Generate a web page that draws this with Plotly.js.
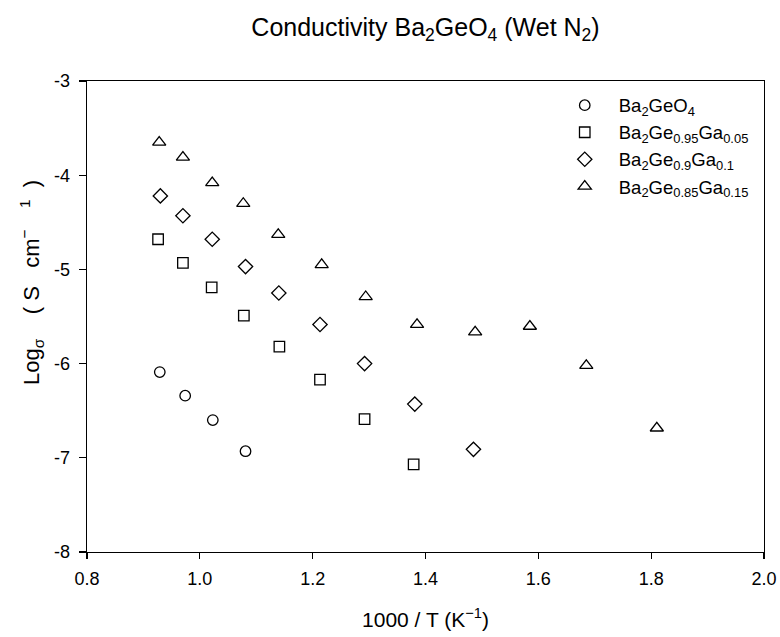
<!DOCTYPE html>
<html>
<head>
<meta charset="utf-8">
<script src="https://cdn.plot.ly/plotly-3.0.1.min.js"></script>
<style>html,body{margin:0;padding:0;background:#fff;}#chart{width:780px;height:637px;}</style>
</head>
<body>
<div id="chart"></div>
<script>
// Data (x = 1000/T in K^-1, y = log sigma)
const seriesNames = [
  'Ba<sub>2</sub>GeO<sub>4</sub>',
  'Ba<sub>2</sub>Ge<sub>0.95</sub>Ga<sub>0.05</sub>',
  'Ba<sub>2</sub>Ge<sub>0.9</sub>Ga<sub>0.1</sub>',
  'Ba<sub>2</sub>Ge<sub>0.85</sub>Ga<sub>0.15</sub>'
];
const x_Ge = [0.929, 0.974, 1.023, 1.081];
const y_Ge = [-6.09, -6.34, -6.60, -6.93];
const x_Ga005 = [0.926, 0.970, 1.021, 1.078, 1.141, 1.213, 1.292, 1.379];
const y_Ga005 = [-4.68, -4.93, -5.19, -5.49, -5.82, -6.17, -6.59, -7.07];
const x_Ga01 = [0.930, 0.970, 1.022, 1.081, 1.140, 1.213, 1.292, 1.381, 1.485];
const y_Ga01 = [-4.22, -4.43, -4.68, -4.97, -5.25, -5.585, -6.00, -6.43, -6.91];
const x_Ga015 = [0.928, 0.970, 1.022, 1.077, 1.139, 1.216, 1.294, 1.385, 1.488, 1.585, 1.685, 1.810];
const y_Ga015 = [-3.65, -3.81, -4.08, -4.30, -4.63, -4.95, -5.29, -5.585, -5.665, -5.605, -6.02, -6.685];
const yTickVals = [-8, -7, -6, -5, -4, -3];
const yTickText = ['-8', '-7', '-6', '-5', '-4', '-3'];
const xTickVals = [0.8, 1.0, 1.2, 1.4, 1.6, 1.8, 2.0];
const xTickText = ['0.8', '1.0', '1.2', '1.4', '1.6', '1.8', '2.0'];
const yTitle = 'Log<sub>\u03c3</sub>\u00a0\u00a0\u00a0\u00a0( S\u00a0\u00a0 cm<sup>\u2212\u00a0\u00a0\u00a0\u00a0\u00a01</sup>\u00a0\u00a0)';

const symbols = ['circle-open', 'square-open', 'diamond-open', 'triangle-up-open'];
const sizes = [10.5, 10.5, 11, 11.5];

const xs = [x_Ge, x_Ga005, x_Ga01, x_Ga015];
const ys = [y_Ge, y_Ga005, y_Ga01, y_Ga015];
const font = '"Liberation Sans", Arial, sans-serif';

const traces = xs.map((x, i) => ({
  x: x, y: ys[i], name: seriesNames[i], type: 'scatter', mode: 'markers',
  marker: {symbol: symbols[i], size: sizes[i], color: '#000', line: {color: '#000', width: 1.3}}
}));

const layout = {
  width: 780, height: 637,
  margin: {l: 87, r: 16, t: 81, b: 85},
  paper_bgcolor: '#fff', plot_bgcolor: '#fff',
  font: {family: font, size: 18, color: '#000'},
  title: {
    text: 'Conductivity Ba<sub>2</sub>GeO<sub>4</sub> (Wet N<sub>2</sub>)',
    font: {family: font, size: 25, color: '#000'},
    xref: 'paper', x: 0.5, xanchor: 'center',
    yref: 'container', y: 0.957, yanchor: 'middle'
  },
  xaxis: {
    range: [0.8, 2.0], tickmode: 'array', tickvals: xTickVals, ticktext: xTickText,
    showgrid: false, zeroline: false, showline: true, linecolor: '#000', linewidth: 1.3,
    mirror: true, ticks: 'outside', ticklen: 6, tickwidth: 1.3, tickcolor: '#000',
    tickfont: {family: font, size: 18}, ticklabelstandoff: 4,
    title: {text: '1000 / T (K<sup>\u22121</sup>)', font: {family: font, size: 21}, standoff: 24}
  },
  yaxis: {
    range: [-8, -3], tickmode: 'array', tickvals: yTickVals, ticktext: yTickText,
    showgrid: false, zeroline: false, showline: true, linecolor: '#000', linewidth: 1.3,
    mirror: true, ticks: 'outside', ticklen: 7, tickwidth: 1.3, tickcolor: '#000',
    tickfont: {family: font, size: 18}, ticklabelstandoff: 5
  },
  annotations: [{
    text: yTitle, textangle: -90, showarrow: false,
    xref: 'paper', yref: 'paper', x: -0.083, y: 0.573,
    xanchor: 'center', yanchor: 'middle',
    font: {family: font, size: 22, color: '#000'}
  }],
  legend: {
    x: 0.685, xanchor: 'left', y: 0.988, yanchor: 'top',
    bgcolor: 'rgba(0,0,0,0)', borderwidth: 0,
    font: {family: font, size: 18.5, color: '#000'},
    itemwidth: 58
  },
  showlegend: true
};

Plotly.newPlot('chart', traces, layout, {displayModeBar: false, staticPlot: true});
</script>
</body>
</html>
